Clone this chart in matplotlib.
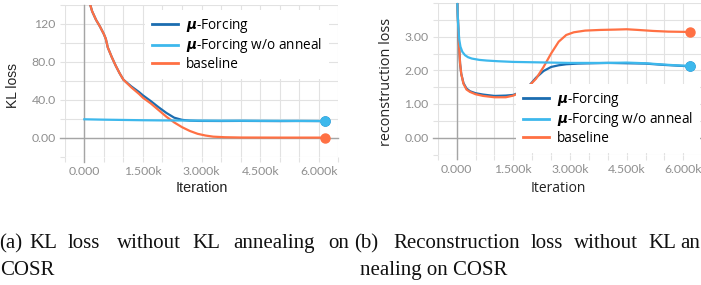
import numpy as np
import matplotlib
matplotlib.use("Agg")
import matplotlib.pyplot as plt
from matplotlib.lines import Line2D
from matplotlib.ticker import MultipleLocator, FuncFormatter

plt.rcParams['mathtext.fontset'] = 'custom'
plt.rcParams['mathtext.it'] = 'DejaVu Sans:italic:bold'

# ---- data ----
run_names = ['$\\mu$-Forcing', '$\\mu$-Forcing w/o anneal', 'baseline']
run_colors = ['#1b6db0', '#3db8ec', '#ff7043']

# KL loss
kl_base_x = [0, 50, 100, 150, 200, 300, 400, 500, 550, 600, 700, 800, 900, 1000,
             1200, 1400, 1500, 1700, 1900, 2100, 2300, 2500, 2700, 2900, 3100,
             3300, 3600, 4000, 5000, 6170]
kl_base_y = [175, 160, 148, 140, 133, 124, 117, 109, 104, 95, 85, 76, 68, 61,
             53, 46, 42, 36, 29, 22, 16, 11, 7, 4, 2.2, 1, 0.4, 0.1, 0, 0]
kl_mu_x = [0, 50, 100, 150, 200, 300, 400, 500, 550, 600, 700, 800, 900, 1000,
           1200, 1400, 1500, 1700, 1900, 2100, 2300, 2500, 2700, 2900, 3500,
           4000, 4500, 5000, 5500, 6170]
kl_mu_y = [175, 160, 148, 140, 133, 124, 117, 109, 104, 95, 85, 76, 68, 61,
           54, 48, 44.5, 38.5, 32, 26, 21, 18.7, 17.9, 17.6, 17.5,
           17.6, 17.5, 17.4, 17.5, 17.4]
kl_noann_x = [0, 500, 1000, 1500, 2000, 2500, 3000, 3500, 4000, 4500, 5000, 5500, 6170]
kl_noann_y = [19.3, 18.9, 18.6, 18.3, 18.1, 18.0, 17.9, 17.8, 17.8, 17.7, 17.7, 17.6, 17.5]

# reconstruction loss
rc_base_x = [0, 30, 60, 90, 120, 180, 260, 350, 500, 700, 1000, 1300, 1500, 1700,
             1900, 2100, 2300, 2500, 2700, 2900, 3100, 3400, 3800, 4200, 4500,
             4800, 5200, 5600, 6170]
rc_base_y = [4.6, 3.6, 2.8, 2.2, 1.9, 1.6, 1.43, 1.36, 1.29, 1.24, 1.2, 1.2, 1.25,
             1.36, 1.52, 1.75, 2.1, 2.5, 2.85, 3.05, 3.13, 3.18, 3.2, 3.21, 3.22,
             3.2, 3.17, 3.15, 3.14]
rc_mu_x = [0, 30, 60, 90, 120, 180, 260, 350, 500, 700, 1000, 1300, 1500, 1700,
           1900, 2100, 2300, 2500, 2700, 2900, 3200, 3600, 4000, 4500, 5000,
           5500, 6170]
rc_mu_y = [4.6, 3.6, 2.8, 2.2, 1.9, 1.62, 1.46, 1.38, 1.32, 1.28, 1.24, 1.25, 1.27,
           1.36, 1.52, 1.78, 1.98, 2.1, 2.15, 2.18, 2.2, 2.21, 2.22, 2.21, 2.2,
           2.16, 2.12]
rc_noann_x = [0, 20, 40, 70, 100, 150, 220, 300, 400, 600, 800, 1100, 1500, 2000,
              2500, 3000, 3500, 4000, 4500, 5000, 5500, 5800, 6170]
rc_noann_y = [4.6, 3.9, 3.3, 2.9, 2.7, 2.55, 2.45, 2.39, 2.35, 2.31, 2.29, 2.27,
              2.25, 2.24, 2.23, 2.22, 2.22, 2.22, 2.23, 2.21, 2.17, 2.15, 2.13]

# caption words (word, centre x in px)
caption_a = [('(a)', 11), ('KL', 43), ('loss', 84), ('without', 148.5), ('KL', 206),
             ('annealing', 273.5), ('on', 339)]
caption_b = [('(b)', 366), ('Reconstruction', 456.5), ('loss', 547), ('without', 605.5),
             ('KL', 662), ('an', 690)]
caption_a2 = 'COSR'
caption_b2 = 'nealing on COSR'

W, H = 701, 285
fig = plt.figure(figsize=(W / 100, H / 100), dpi=100)


def px_axes(x0, y0, x1, y1):
    return fig.add_axes([x0 / W, 1 - y1 / H, (x1 - x0) / W, (y1 - y0) / H])


def fmt_x(v, pos):
    if abs(v % 1500) > 1e-6:
        return ''
    if v == 0:
        return '0.000'
    return '%.3fk' % (v / 1000)


def style_axes(ax, ylim, ystep, ylabels, yfmt):
    ax.set_xlim(-500, 6500)
    ax.set_ylim(*ylim)
    ax.xaxis.set_major_locator(MultipleLocator(500))
    ax.yaxis.set_major_locator(MultipleLocator(ystep))
    ax.xaxis.set_major_formatter(FuncFormatter(fmt_x))

    def fy(v, pos):
        for t in ylabels:
            if abs(v - t) < 1e-6:
                return yfmt(t)
        return ''
    ax.yaxis.set_major_formatter(FuncFormatter(fy))
    ax.grid(True, color='#e2e2e2', lw=0.8, zorder=0)
    ax.set_axisbelow(True)
    for s in ax.spines.values():
        s.set_visible(False)
    ax.tick_params(length=3.6, width=0.8, color='#e2e2e2', labelcolor='#8f8f8f',
                   labelsize=8.8, pad=3)
    for lab in ax.get_xticklabels() + ax.get_yticklabels():
        lab.set_fontfamily('Lato')
    ax.axhline(0, xmin=-0.018, xmax=1, color='#a5a5a5', lw=1.0, zorder=1, clip_on=False)
    ax.axvline(0, ymin=-0.033, ymax=1, color='#a5a5a5', lw=1.0, zorder=1, clip_on=False)


# ---- (a) KL loss ----
ax1 = px_axes(64.8, 4.7, 338.3, 156.6)
style_axes(ax1, (-20, 140), 20, [0, 40, 80, 120],
           lambda v: '120' if v >= 100 else ('%.1f' % v if v >= 10 else '%.2f' % v))
ax1.plot(kl_mu_x, kl_mu_y, color=run_colors[0], lw=1.6, zorder=2)
ax1.plot(kl_base_x, kl_base_y, color=run_colors[2], lw=1.6, zorder=3)
ax1.plot(kl_noann_x, kl_noann_y, color=run_colors[1], lw=1.6, zorder=4)
ax1.plot([kl_mu_x[-1]], [kl_mu_y[-1]], 'o', color=run_colors[0], ms=6.5, zorder=2, clip_on=False)
ax1.plot([kl_base_x[-1]], [kl_base_y[-1]], 'o', color=run_colors[2], ms=6.5, zorder=3, clip_on=False)
ax1.plot([kl_noann_x[-1]], [kl_noann_y[-1]], 'o', color=run_colors[1], ms=6.5, zorder=4, clip_on=False)

# ---- (b) reconstruction loss ----
ax2 = px_axes(437.8, 3.0, 702.2, 154.5)
style_axes(ax2, (-0.5, 4.0), 0.5, [0, 1, 2, 3], lambda v: '%.2f' % v)
ax2.plot(rc_mu_x, rc_mu_y, color=run_colors[0], lw=1.6, zorder=2)
ax2.plot(rc_base_x, rc_base_y, color=run_colors[2], lw=1.6, zorder=3)
ax2.plot(rc_noann_x, rc_noann_y, color=run_colors[1], lw=1.6, zorder=4)
ax2.plot([rc_mu_x[-1]], [rc_mu_y[-1]], 'o', color=run_colors[0], ms=6.5, zorder=2, clip_on=False)
ax2.plot([rc_base_x[-1]], [rc_base_y[-1]], 'o', color=run_colors[2], ms=6.5, zorder=3, clip_on=False)
ax2.plot([rc_noann_x[-1]], [rc_noann_y[-1]], 'o', color=run_colors[1], ms=6.5, zorder=4, clip_on=False)

# legends
handles = [Line2D([], [], color=c, lw=2) for c in run_colors]
leg_kw = dict(loc='upper left', bbox_transform=fig.transFigure, frameon=True,
              facecolor='white', edgecolor='none', framealpha=1, fancybox=False,
              borderpad=0.5, handlelength=1.9, handletextpad=0.6,
              labelspacing=0.12, borderaxespad=0,
              prop={'family': 'Open Sans', 'size': 9.8})
l1 = ax1.legend(handles, run_names, bbox_to_anchor=(145 / W, 1 - 10 / H), **leg_kw)
l1.set_zorder(10)
l2 = ax2.legend(handles, run_names, bbox_to_anchor=(516 / W, 1 - 84 / H), **leg_kw)
l2.set_zorder(10)

# axis labels
fig.text(13 / W, 1 - 85 / H, 'KL loss', rotation=90, ha='center', va='center',
         fontsize=10, family='Liberation Sans', color='#222222')
fig.text(202 / W, 1 - 188 / H, 'Iteration', ha='center', va='center',
         fontsize=10.4, family='Liberation Sans', color='#222222')
fig.text(387 / W, 1 - 82 / H, 'reconstruction loss', rotation=90, ha='center',
         va='center', fontsize=10.4, family='Open Sans', color='#222222')
fig.text(558 / W, 1 - 189 / H, 'Iteration', ha='center', va='center',
         fontsize=10, family='Open Sans', color='#222222')

# captions
cap_kw = dict(va='baseline', fontsize=15, family='Liberation Serif', color='#111111')
for words in (caption_a, caption_b):
    for w, x in words:
        ha = 'left' if w == 'an' else 'center'
        xx = 680 if w == 'an' else x
        fig.text(xx / W, 1 - 248 / H, w, ha=ha, **cap_kw)
fig.text(0, 1 - 275 / H, caption_a2, ha='left', **cap_kw)
fig.text(360 / W, 1 - 275 / H, caption_b2, ha='left', **cap_kw)

fig.savefig('out.png', dpi=100)
